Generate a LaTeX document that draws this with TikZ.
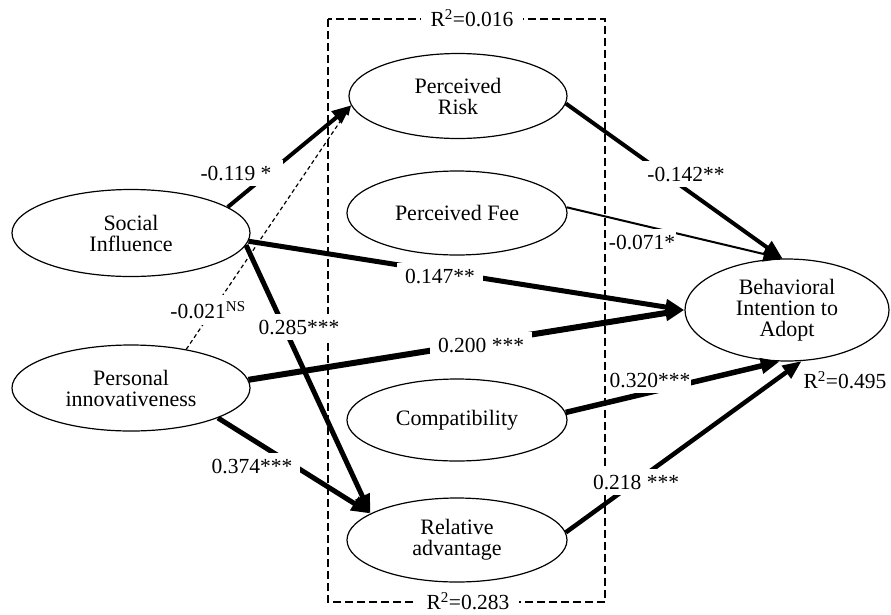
\documentclass[tikz,border=0pt]{standalone}
\usepackage{fontspec}
\setmainfont{Liberation Serif}
\usetikzlibrary{shapes.geometric,arrows.meta}
\begin{document}
\begin{tikzpicture}[x=1pt,y=-1pt,
  latent/.style={ellipse,draw,line width=1.2pt,fill=white,inner sep=0pt,align=center,font=\fontsize{22}{21}\selectfont},
  lab/.style={fill=white,inner xsep=8pt,inner ysep=6pt,font=\fontsize{21.5}{24}\selectfont},
  rsq/.style={fill=white,inner xsep=10pt,inner ysep=2pt,font=\fontsize{21.5}{24}\selectfont},
  link/.style={line width=#1,-{Triangle[length=19pt,width=15pt]}},
  nslink/.style={line width=1.2pt,dash pattern=on 4pt off 3pt,-{Triangle[length=10pt,width=7pt]}},
  boxline/.style={line width=1.5pt,dash pattern=on 8pt off 4pt}
]
\useasboundingbox (0,0) rectangle (891,614);
% group box
\draw[boxline] (328,19) rectangle (605,602);
% latent variables
\node[latent,minimum width=218pt,minimum height=85pt] (pr) at (458,96) {Perceived\\Risk};
\node[latent,minimum width=220pt,minimum height=84pt] (pf) at (457,213) {Perceived Fee};
\node[latent,minimum width=220pt,minimum height=82pt] (comp) at (457,420) {Compatibility};
\node[latent,minimum width=220pt,minimum height=84pt] (ra) at (457,540) {Relative\\advantage};
\node[latent,minimum width=238pt,minimum height=87pt] (si) at (131,233) {Social\\Influence};
\node[latent,minimum width=238pt,minimum height=86pt] (pi) at (131,388) {Personal\\innovativeness};
\node[latent,minimum width=204pt,minimum height=102pt] (bi) at (787,310) {Behavioral\\Intention to\\Adopt};
% paths
\draw[link=4pt] (si.15) -- (pr.185);
\draw[nslink] (pi.35) -- (pr.185);
\draw[link=5pt] (si.-4) -- (bi.180);
\draw[link=5pt] (si.-6) -- (ra.163);
\draw[link=6pt] (pi.4) -- (bi.180);
\draw[link=5pt] (pi.-19) -- (ra.163);
\draw[link=4pt] (pr.-4) -- (bi.95);
\draw[link=2pt] (pf.3) -- (bi.95);
\draw[link=5.5pt] (comp.4) -- (bi.-98);
\draw[link=4.5pt] (ra.4) -- (bi.-74);
% coefficients
\node[lab,inner xsep=12pt] (l1) at (236,173) {-0.119 *};
\node[lab] (l2) at (208,310) {-0.021\textsuperscript{NS}};
\node[lab] (l3) at (299,327) {0.285***};
\node[lab] (l4) at (440,276) {0.147**};
\node[lab] (l5) at (481,345) {0.200 ***};
\node[lab] (l6) at (252,466) {0.374***};
\node[lab] (l7) at (686,174) {-0.142**};
\node[lab,inner xsep=1pt] (l8) at (642,242) {-0.071*};
\node[lab,inner xsep=1pt] (l9) at (650,380) {0.320***};
\node[lab] (l10) at (636,482) {0.218 ***};
% R squared
\node[rsq] (r1) at (472,18) {R\textsuperscript{2}=0.016};
\node[rsq] (r2) at (468,601) {R\textsuperscript{2}=0.283};
\node[rsq,fill=none] (r3) at (845,380) {R\textsuperscript{2}=0.495};
\end{tikzpicture}
\end{document}
